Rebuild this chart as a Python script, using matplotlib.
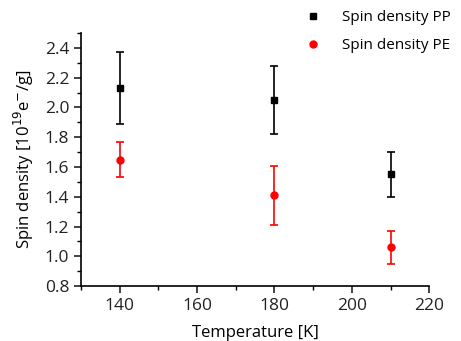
import matplotlib
matplotlib.use("Agg")
import matplotlib.pyplot as plt
from matplotlib.ticker import MultipleLocator
from matplotlib.lines import Line2D

plt.rcParams['font.family'] = ['Open Sans', 'DejaVu Sans']

# data
temps = [140, 180, 210]
pp = [2.13, 2.05, 1.55]
pp_err = [0.24, 0.23, 0.15]
pe = [1.65, 1.41, 1.06]
pe_err = [0.12, 0.20, 0.11]

fig = plt.figure(figsize=(4.61, 3.41), dpi=100)
ax = fig.add_axes([0.176, 0.161, 0.755, 0.742])

ax.errorbar(temps, pp, yerr=pp_err, fmt='s', color='black', ms=5,
            elinewidth=1.2, capsize=3, capthick=1.2)
ax.errorbar(temps, pe, yerr=pe_err, fmt='o', color='red', ms=5,
            elinewidth=1.2, capsize=3, capthick=1.2)

ax.set_xlim(130, 220)
ax.set_ylim(0.8, 2.5)
ax.xaxis.set_major_locator(MultipleLocator(20))
ax.xaxis.set_minor_locator(MultipleLocator(10))
ax.yaxis.set_major_locator(MultipleLocator(0.2))
ax.yaxis.set_minor_locator(MultipleLocator(0.1))
ax.yaxis.set_major_formatter(plt.FuncFormatter(lambda v, p: '%.1f' % v))

for s in ['top', 'right']:
    ax.spines[s].set_visible(False)
for s in ['left', 'bottom']:
    ax.spines[s].set_linewidth(1.2)
ax.tick_params(which='major', direction='out', length=5, width=1.2, labelsize=12.5, colors='#222222')
ax.tick_params(which='minor', direction='out', length=3, width=1.0)

ax.set_xlabel('Temperature [K]', fontsize=12, labelpad=8)
ax.set_ylabel('Spin density [10$^{19}$e$^{-}$/g]', fontsize=12, labelpad=6)

handles = [Line2D([], [], ls='none', marker='s', color='black', ms=5),
           Line2D([], [], ls='none', marker='o', color='red', ms=5)]
fig.legend(handles, ['Spin density PP', 'Spin density PE'], loc='upper left',
           bbox_to_anchor=(0.633, 1.01), frameon=False, fontsize=11,
           handletextpad=1.4, handlelength=1.0, labelspacing=0.85, numpoints=1)

fig.savefig('out.png', dpi=100)
